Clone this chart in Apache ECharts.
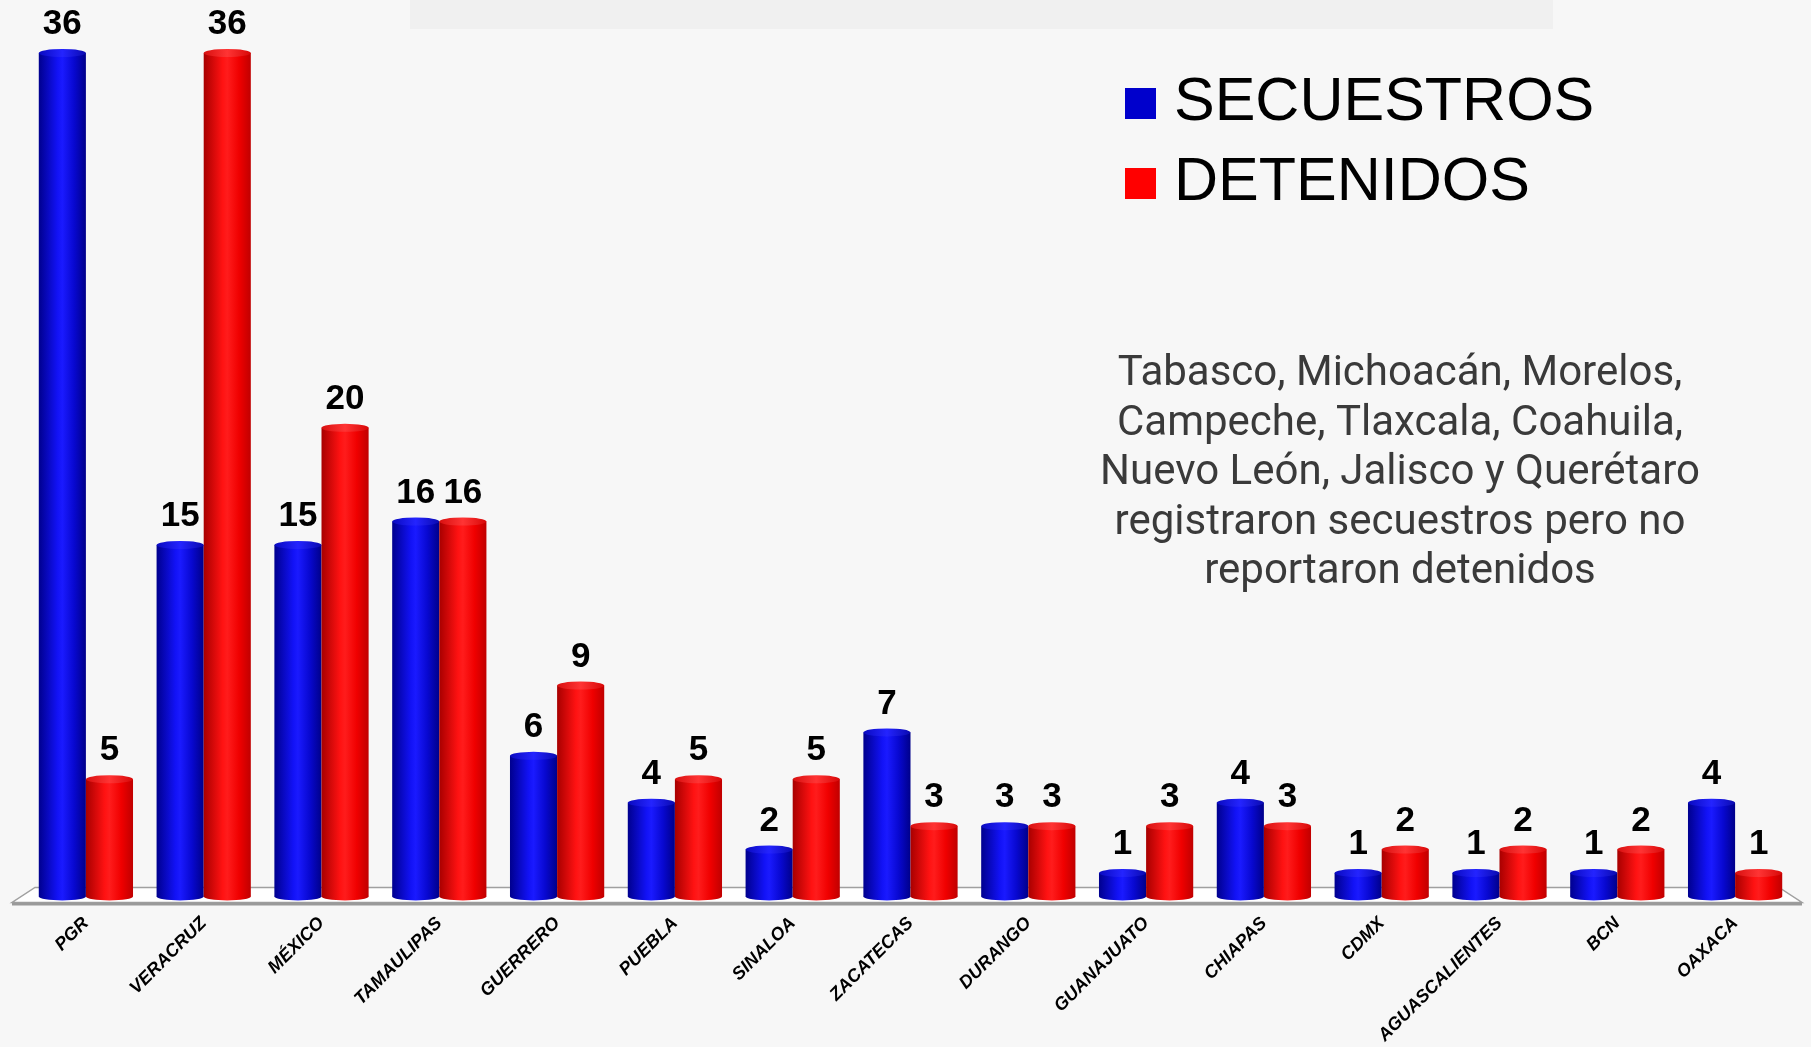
<!DOCTYPE html>
<html>
<head>
<meta charset="utf-8">
<script src="https://cdn.jsdelivr.net/npm/echarts@6/dist/echarts.min.js"></script>
<style>html,body{margin:0;padding:0;background:#f7f7f7}#c{width:1811px;height:1047px}</style>
</head>
<body>
<div id="c"></div>
<script>
const categories = ['PGR','VERACRUZ','MÉXICO','TAMAULIPAS','GUERRERO','PUEBLA','SINALOA','ZACATECAS','DURANGO','GUANAJUATO','CHIAPAS','CDMX','AGUASCALIENTES','BCN','OAXACA'];
const secuestros = [36,15,15,16,6,4,2,7,3,1,4,1,1,1,4];
const detenidos  = [5,36,20,16,9,5,5,3,3,3,3,2,2,2,1];
const noteText = 'Tabasco, Michoacán, Morelos,\nCampeche, Tlaxcala, Coahuila,\nNuevo León, Jalisco y Querétaro\nregistraron secuestros pero no\nreportaron detenidos';

const chart = echarts.init(document.getElementById('c'));
const G = echarts.graphic;
function grad(stops){ return new G.LinearGradient(0,0,1,0,stops.map(c=>({offset:c[0],color:c[1]}))); }
const blueGrad = grad([[0,'#00008e'],[0.4,'#1212f6'],[0.5,'#1a1aff'],[0.75,'#0808d0'],[1,'#00008a']]);
const redGrad  = grad([[0,'#a80000'],[0.4,'#ff1212'],[0.5,'#ff1c1c'],[0.75,'#f00000'],[1,'#c00000']]);
const blueCap  = grad([[0,'#0a0ac0'],[0.5,'#2424ff'],[1,'#0a0ab0']]);
const redCap   = grad([[0,'#d81010'],[0.5,'#ff3434'],[1,'#d80808']]);
const labelStyle = {show:true, position:'top', distance:11, color:'#000', fontFamily:'Liberation Sans', fontWeight:'bold', fontSize:35};
const CAT_GAP = 0.2;

function capSeries(name, values, side, bodyFill, capFill){
  return {
    name:name, type:'custom', z:3, silent:true,
    data: values.map((v,i)=>[i,v]),
    encode:{x:0, y:1},
    renderItem:function(params, api){
      const top = api.coord([api.value(0), api.value(1)]);
      const base = api.coord([api.value(0), 0]);
      const band = api.size([1,0])[0];
      const bw = band*(1-CAT_GAP)/2;
      const cx = top[0] + side*bw/2;
      const rx = bw/2, ry = 4;
      return {type:'group', children:[
        {type:'circle', x:cx, y:base[1], scaleY:ry/rx, shape:{cx:0,cy:0,r:rx}, style:{fill:bodyFill}},
        {type:'circle', x:cx, y:top[1], scaleY:ry/rx, shape:{cx:0,cy:0,r:rx}, style:{fill:capFill}}
      ]};
    }
  };
}

chart.setOption({
  backgroundColor:'#f7f7f7',
  animation:false,
  grid:{left:27, right:17, top:53, bottom:150},
  legend:{
    data:[{name:'SECUESTROS', itemStyle:{color:'#0000cc'}},{name:'DETENIDOS', itemStyle:{color:'#ff0000'}}],
    orient:'vertical', left:1120, top:68,
    itemWidth:31, itemHeight:31, itemGap:19, icon:'rect',
    textStyle:{fontFamily:'Liberation Sans', fontSize:61, lineHeight:60, color:'#000', padding:[0,0,0,13]}
  },
  xAxis:{
    type:'category', data:categories,
    axisLine:{show:false}, axisTick:{show:false},
    axisLabel:{rotate:45, interval:0, margin:24, fontFamily:'Liberation Sans', fontStyle:'italic', fontWeight:'bold', fontSize:18, color:'#000'}
  },
  yAxis:{type:'value', min:0, max:36, show:false, splitLine:{show:false}},
  graphic:[
    {type:'rect', shape:{x:410,y:0,width:1143,height:29}, style:{fill:'#f0f0f0'}, z:-10},
    {type:'text', x:1400, y:350, style:{text:noteText, fontFamily:'Roboto', fontSize:42, lineHeight:49.5, align:'center', verticalAlign:'top', fill:'#3a3a3a'}}
  ],
  series:[
    {
      type:'custom', name:'floor', data:[0], z:0, silent:true,
      renderItem:function(params, api){
        const cs = params.coordSys;
        const base = cs.y + cs.height;
        const x0 = cs.x, x1 = cs.x + cs.width;
        return {type:'group', children:[
          {type:'polygon', shape:{points:[[x0+8,base-9],[x1-15,base-9],[x1+8,base+6],[x0-15,base+6]]}, style:{fill:'#ffffff', stroke:'#a0a0a0', lineWidth:1.5}},
          {type:'rect', shape:{x:x0-15,y:base+6,width:cs.width+23,height:3}, style:{fill:'#9a9a9a'}}
        ]};
      }
    },
    {name:'SECUESTROS', type:'bar', data:secuestros, barGap:'0%', barCategoryGap:(CAT_GAP*100)+'%', z:2,
      itemStyle:{color:blueGrad}, label:labelStyle},
    {name:'DETENIDOS', type:'bar', data:detenidos, barGap:'0%', barCategoryGap:(CAT_GAP*100)+'%', z:2,
      itemStyle:{color:redGrad}, label:labelStyle},
    capSeries('sec-caps', secuestros, -1, blueGrad, blueCap),
    capSeries('det-caps', detenidos, 1, redGrad, redCap)
  ]
});
</script>
</body>
</html>
